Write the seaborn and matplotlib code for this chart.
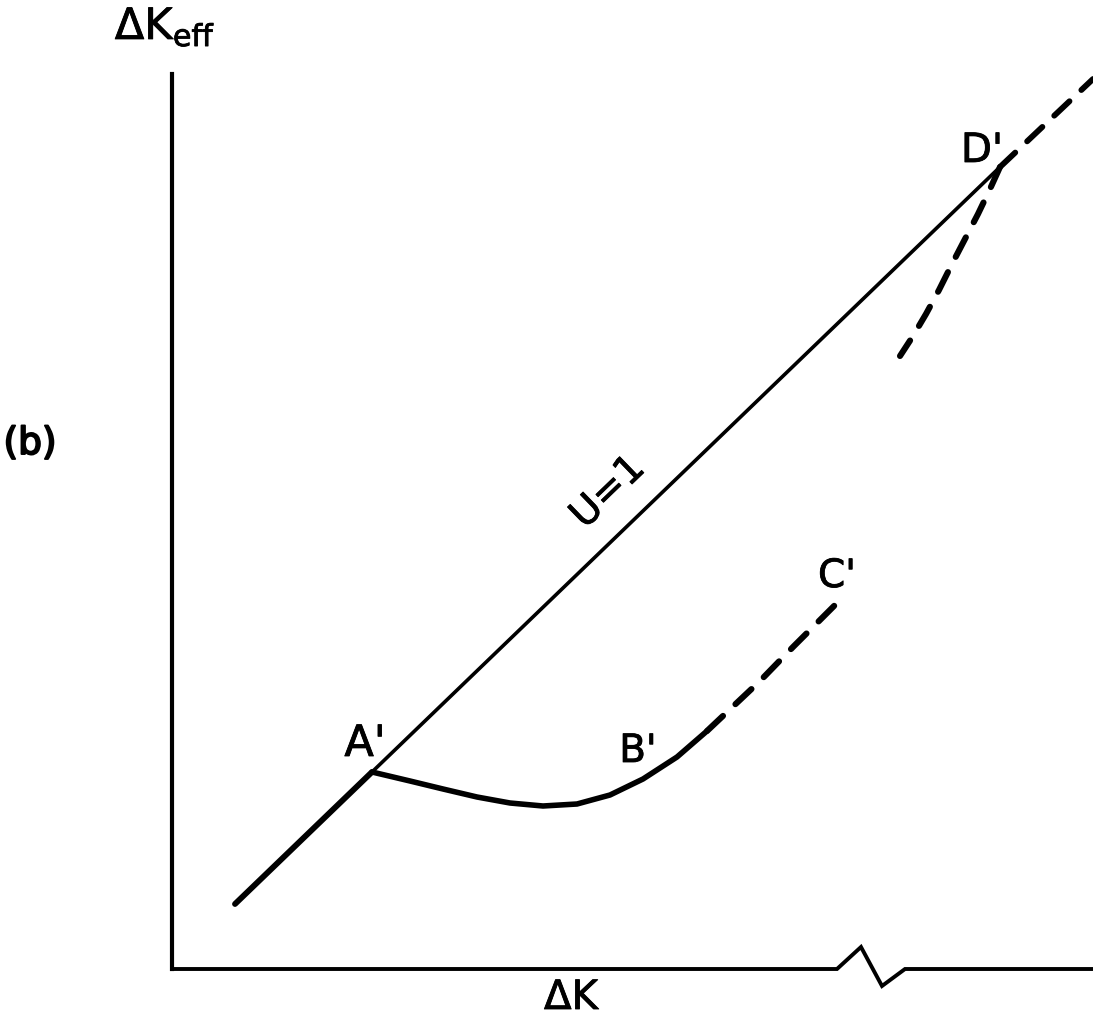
import matplotlib
matplotlib.use("Agg")
import matplotlib.pyplot as plt
import matplotlib.patheffects as pe
import seaborn as sns

sns.set_theme(style="white")
plt.rcParams['font.family'] = ['DejaVu Sans']
plt.rcParams['mathtext.fontset'] = 'dejavusans'

# U = 1 line: lower (thick) part up to A', upper part from A' to D'
u_low_x = [0.63, 2.00]
u_low_y = [0.65, 1.97]
u_high_x = [2.00, 8.28]
u_high_y = [1.97, 8.02]
# dashed continuation beyond D'
u_ext_x = [8.28, 9.21]
u_ext_y = [8.02, 8.90]

# A' -> B' solid curve
ab_x = [2.00, 2.38, 2.71, 3.05, 3.38, 3.71, 4.05, 4.38, 4.71, 5.05, 5.35]
ab_y = [1.97, 1.88, 1.80, 1.72, 1.66, 1.63, 1.65, 1.74, 1.90, 2.12, 2.38]
# B' -> C' dashed
bc_x = [5.35, 5.88, 6.21, 6.63]
bc_y = [2.38, 2.88, 3.22, 3.64]
# dashed branch falling from D'
d_x = [8.28, 8.18, 8.06, 7.93, 7.80, 7.67, 7.54, 7.41, 7.28]
d_y = [8.02, 7.80, 7.55, 7.30, 7.05, 6.79, 6.55, 6.33, 6.13]

# horizontal axis with a break
axis_x = [0.0, 6.65, 6.89, 7.10, 7.33, 9.21]
axis_y = [0.0, 0.0, 0.22, -0.17, 0.0, 0.0]

fig = plt.figure(figsize=(10.93, 10.20), dpi=100)
ax = fig.add_axes([172 / 1093, 50 / 1020, 921 / 1093, 895 / 1020])
ax.set_xlim(0, 9.21)
ax.set_ylim(0, 8.95)


def draw(x, y, lw, dashed=False):
    sns.lineplot(x=x, y=y, sort=False, color="black", linewidth=lw, ax=ax,
                 estimator=None, legend=False)
    ln = ax.lines[-1]
    ln.set_solid_capstyle("round")
    ln.set_dash_capstyle("round")
    ln.set_solid_joinstyle("round")
    ln.set_dash_joinstyle("round")
    ln.set_clip_on(False)
    if dashed:
        ln.set_dashes((3.6, 2.8))
    return ln


draw(u_low_x, u_low_y, 4.2)
draw(u_high_x, u_high_y, 2.6)
draw(u_ext_x, u_ext_y, 4.2, dashed=True)
draw(ab_x, ab_y, 4.0)
draw(bc_x, bc_y, 4.4, dashed=True)
draw(d_x, d_y, 4.4, dashed=True)
ln = draw(axis_x, axis_y, 2.8)
ln.set_solid_capstyle("butt")
ln.set_solid_joinstyle("miter")

for s in ["top", "right", "bottom"]:
    ax.spines[s].set_visible(False)
ax.spines["left"].set_color("black")
ax.spines["left"].set_linewidth(3.0)
ax.set_xticks([])
ax.set_yticks([])
ax.set_xlabel("")
ax.set_ylabel("")
ax.patch.set_alpha(0)

medium = [pe.withStroke(linewidth=0.6, foreground="black")]
txt = dict(color="black", ha="center", va="center", clip_on=False)
ax.text(1.93, 2.25, "A'", fontsize=31, path_effects=medium, **txt)
ax.text(4.66, 2.18, "B'", fontsize=28, path_effects=medium, **txt)
ax.text(6.65, 3.93, "C'", fontsize=28, path_effects=medium, **txt)
ax.text(8.10, 8.18, "D'", fontsize=29, path_effects=medium, **txt)
ax.text(4.36, 4.77, "U=1", fontsize=28, rotation=44, rotation_mode="anchor",
        path_effects=medium, **txt)
ax.text(3.99, -0.29, "ΔK", fontsize=29, path_effects=medium, **txt)
ax.text(-1.42, 5.25, "(b)", fontsize=27, **txt,
        path_effects=[pe.withStroke(linewidth=1.4, foreground="black")])
ax.text(-0.07, 9.42, r"$\Delta\mathsf{K}_{\mathsf{eff}}$", fontsize=31,
        path_effects=medium, **txt)

fig.savefig("out.png", dpi=100, facecolor="white")
